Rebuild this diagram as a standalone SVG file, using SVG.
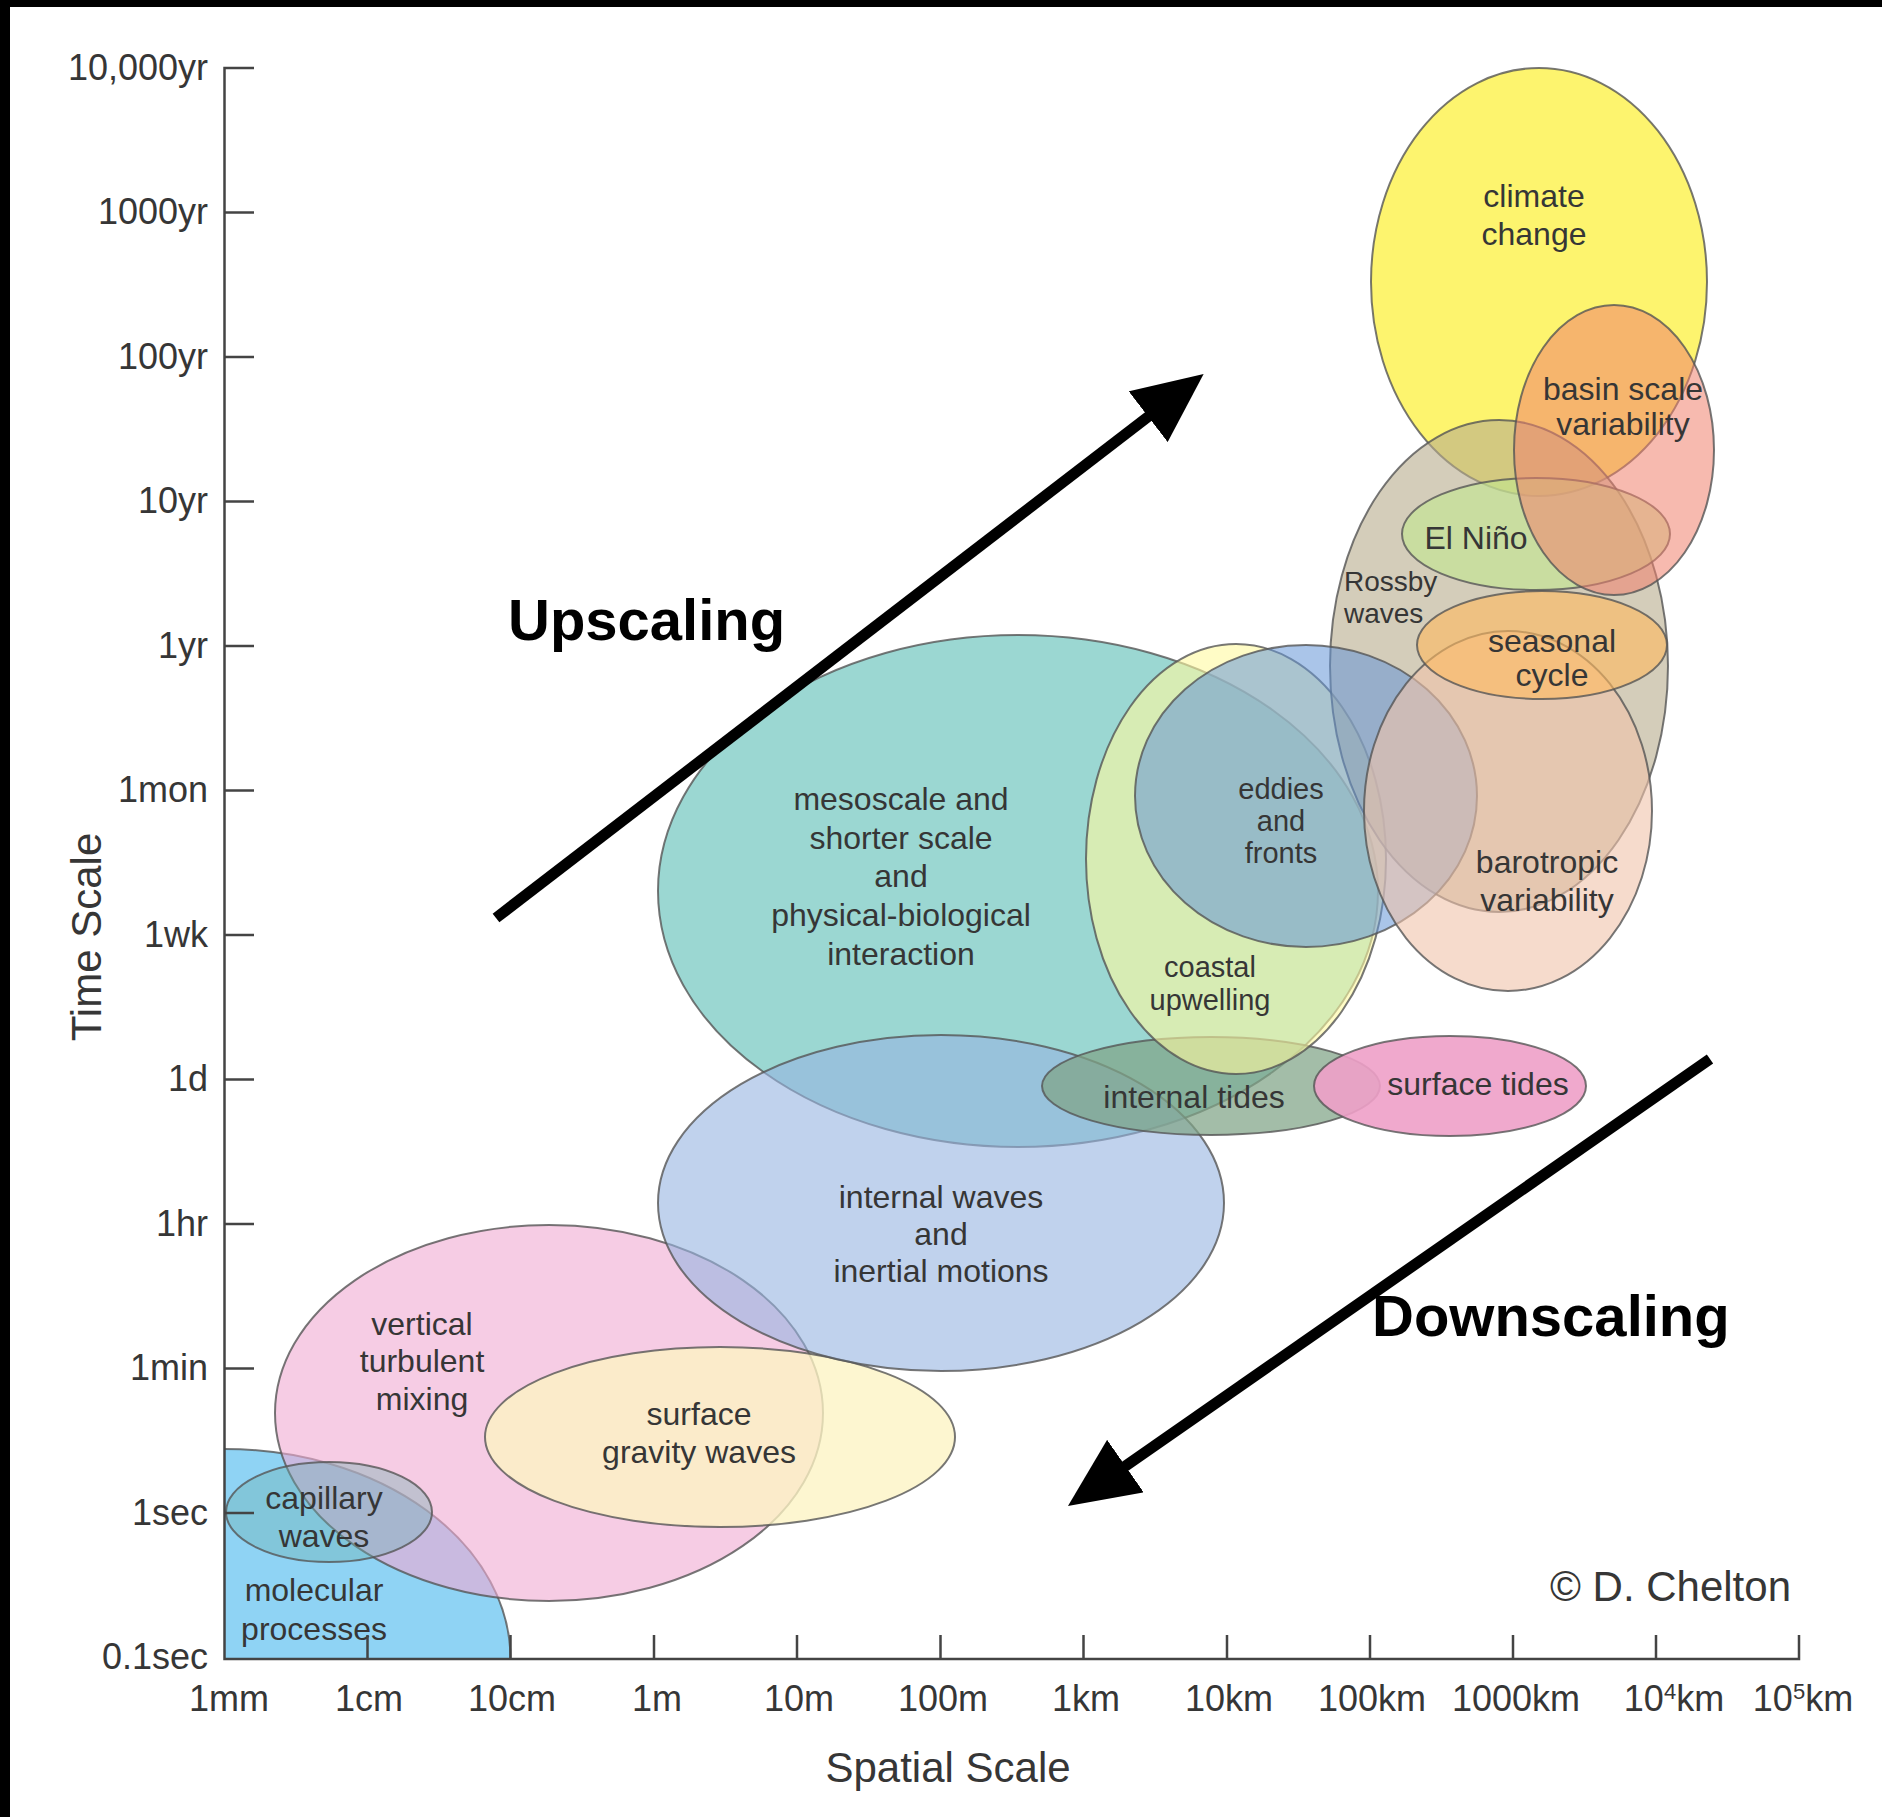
<svg xmlns="http://www.w3.org/2000/svg" width="1882" height="1817" viewBox="0 0 1882 1817">
  <style>
    text { font-family: "Liberation Sans", Arial, Helvetica, sans-serif; fill: #363636; }
    .tick-label { font-size: 36px; }
    .axis-title { font-size: 42px; }
    .lbl { font-size: 32px; text-anchor: middle; }
    .lbl-tight { font-size: 29px; text-anchor: middle; }
    .lbl-small { font-size: 28px; }
    .big { font-size: 58px; font-weight: bold; fill: #000; }
    .blob { stroke: #555; stroke-width: 2; stroke-opacity: 0.8; }
    .axis { stroke: #444; stroke-width: 2.5; fill: none; }
    .arrow { stroke: #000; stroke-width: 11; fill: none; marker-end: url(#head); }
  </style>
  <defs>
    <marker id="head" markerUnits="userSpaceOnUse" viewBox="0 0 70 64" refX="20" refY="32" markerWidth="70" markerHeight="64" orient="auto">
      <path d="M0,0 L70,32 L0,64 Z" fill="#000"/>
    </marker>
  </defs>

  <!-- page background and dark frame edges -->
  <rect x="0" y="0" width="1882" height="1817" fill="#fff"/>
  <rect x="0" y="0" width="1882" height="7" fill="#000"/>
  <rect x="0" y="0" width="10" height="1817" fill="#000"/>

  <!-- small-scale processes -->
  <g id="molecular-processes">
    <path d="M224.5,1659 L224.5,1449 A286,210 0 0 1 510.5,1659 Z" fill="#8fd3f4"/>
    <path d="M224.5,1449 A286,210 0 0 1 510.5,1659" fill="none" class="blob"/>
    <text class="lbl" x="314" y="1601">molecular</text>
    <text class="lbl" x="314" y="1640">processes</text>
  </g>
  <g id="vertical-turbulent-mixing">
    <ellipse class="blob" cx="549" cy="1413" rx="274" ry="188" fill="rgb(240,170,210)" fill-opacity="0.6"/>
    <text class="lbl" x="422" y="1335">vertical</text>
    <text class="lbl" x="422" y="1372">turbulent</text>
    <text class="lbl" x="422" y="1410">mixing</text>
  </g>
  <g id="capillary-waves">
    <ellipse class="blob" cx="329" cy="1512" rx="103" ry="50" fill="rgb(110,175,175)" fill-opacity="0.38"/>
    <text class="lbl" x="324" y="1509">capillary</text>
    <text class="lbl" x="324" y="1547">waves</text>
  </g>
  <g id="surface-gravity-waves">
    <ellipse class="blob" cx="720" cy="1437" rx="235" ry="90" fill="rgb(252,244,195)" fill-opacity="0.78"/>
    <text class="lbl" x="699" y="1425">surface</text>
    <text class="lbl" x="699" y="1463">gravity waves</text>
  </g>

  <!-- mesoscale band -->
  <g id="mesoscale">
    <ellipse class="blob" cx="1018" cy="891" rx="360" ry="256" fill="rgb(55,175,165)" fill-opacity="0.5"/>
    <text class="lbl" x="901" y="810">mesoscale and</text>
    <text class="lbl" x="901" y="849">shorter scale</text>
    <text class="lbl" x="901" y="887">and</text>
    <text class="lbl" x="901" y="926">physical-biological</text>
    <text class="lbl" x="901" y="965">interaction</text>
  </g>
  <g id="internal-waves">
    <ellipse class="blob" cx="941" cy="1203" rx="283" ry="168" fill="rgb(150,180,225)" fill-opacity="0.6"/>
    <text class="lbl" x="941" y="1208">internal waves</text>
    <text class="lbl" x="941" y="1245">and</text>
    <text class="lbl" x="941" y="1282">inertial motions</text>
  </g>
  <g id="internal-tides">
    <ellipse class="blob" cx="1211" cy="1086" rx="169" ry="49" fill="#7fa487" fill-opacity="0.72"/>
  </g>
  <g id="coastal-upwelling">
    <ellipse class="blob" cx="1236" cy="859" rx="150" ry="215" fill="rgb(255,250,160)" fill-opacity="0.6"/>
    <text class="lbl-tight" x="1210" y="977">coastal</text>
    <text class="lbl-tight" x="1210" y="1010">upwelling</text>
  </g>

  <!-- large-scale processes -->
  <g id="climate-change">
    <ellipse class="blob" cx="1539" cy="282" rx="168" ry="214" fill="#fdf46e"/>
    <text class="lbl" x="1534" y="207">climate</text>
    <text class="lbl" x="1534" y="245">change</text>
  </g>
  <g id="rossby-waves">
    <ellipse class="blob" cx="1499" cy="666" rx="169" ry="246" fill="#b8ab8c" fill-opacity="0.6"/>
    <text class="lbl-small" x="1344" y="591">Rossby</text>
    <text class="lbl-small" x="1344" y="623">waves</text>
  </g>
  <g id="el-nino">
    <ellipse class="blob" cx="1536" cy="534" rx="134" ry="56" fill="#c1e790" fill-opacity="0.6"/>
    <text class="lbl" x="1476" y="549">El Niño</text>
  </g>
  <g id="eddies-and-fronts">
    <ellipse class="blob" cx="1306" cy="796" rx="171" ry="151" fill="rgb(100,150,215)" fill-opacity="0.55"/>
    <text class="lbl-tight" x="1281" y="799">eddies</text>
    <text class="lbl-tight" x="1281" y="831">and</text>
    <text class="lbl-tight" x="1281" y="863">fronts</text>
  </g>
  <g id="barotropic-variability">
    <ellipse class="blob" cx="1508" cy="811" rx="144" ry="180" fill="rgb(240,195,170)" fill-opacity="0.6"/>
    <text class="lbl" x="1547" y="873">barotropic</text>
    <text class="lbl" x="1547" y="911">variability</text>
  </g>
  <g id="seasonal-cycle">
    <ellipse class="blob" cx="1542" cy="645" rx="125" ry="54" fill="#ffb95e" fill-opacity="0.6"/>
    <text class="lbl" x="1552" y="652">seasonal</text>
    <text class="lbl" x="1552" y="686">cycle</text>
  </g>
  <g id="basin-scale-variability">
    <ellipse class="blob" cx="1614" cy="450" rx="100" ry="145" fill="rgb(240,130,110)" fill-opacity="0.55"/>
    <text class="lbl" x="1623" y="400">basin scale</text>
    <text class="lbl" x="1623" y="435">variability</text>
  </g>
  <g id="surface-tides">
    <ellipse class="blob" cx="1450" cy="1086" rx="136" ry="50" fill="rgb(238,160,200)" fill-opacity="0.9"/>
    <text class="lbl" x="1478" y="1095">surface tides</text>
  </g>
  <g id="internal-tides-label">
    <text class="lbl" x="1194" y="1108">internal tides</text>
  </g>

  <!-- axes -->
  <g id="axes">
    <path class="axis" d="M254,68 H224.5 V1659 H1799 V1635"/>
    <path class="axis" d="M224.5,212.5 H254 M224.5,357 H254 M224.5,501.5 H254 M224.5,646 H254 M224.5,790.5 H254 M224.5,935 H254 M224.5,1079.5 H254 M224.5,1224 H254 M224.5,1368.5 H254 M224.5,1513 H254"/>
    <path class="axis" d="M367.5,1659 V1635 M510.5,1659 V1635 M654,1659 V1635 M797,1659 V1635 M940.5,1659 V1635 M1083.5,1659 V1635 M1227,1659 V1635 M1370,1659 V1635 M1513,1659 V1635 M1656,1659 V1635"/>
    <g class="tick-label" text-anchor="end">
      <text x="208" y="80">10,000yr</text>
      <text x="208" y="224">1000yr</text>
      <text x="208" y="369">100yr</text>
      <text x="208" y="513">10yr</text>
      <text x="208" y="658">1yr</text>
      <text x="208" y="802">1mon</text>
      <text x="208" y="947">1wk</text>
      <text x="208" y="1091">1d</text>
      <text x="208" y="1236">1hr</text>
      <text x="208" y="1380">1min</text>
      <text x="208" y="1525">1sec</text>
      <text x="208" y="1669">0.1sec</text>
    </g>
    <g class="tick-label" text-anchor="middle">
      <text x="229" y="1711">1mm</text>
      <text x="369" y="1711">1cm</text>
      <text x="512" y="1711">10cm</text>
      <text x="657" y="1711">1m</text>
      <text x="799" y="1711">10m</text>
      <text x="943" y="1711">100m</text>
      <text x="1086" y="1711">1km</text>
      <text x="1229" y="1711">10km</text>
      <text x="1372" y="1711">100km</text>
      <text x="1516" y="1711">1000km</text>
      <text x="1674" y="1711">10<tspan dy="-12" font-size="22">4</tspan><tspan dy="12">km</tspan></text>
      <text x="1803" y="1711">10<tspan dy="-12" font-size="22">5</tspan><tspan dy="12">km</tspan></text>
    </g>
    <text class="axis-title" x="948" y="1782" text-anchor="middle">Spatial Scale</text>
    <text class="axis-title" transform="translate(101,937) rotate(-90)" text-anchor="middle">Time Scale</text>
  </g>

  <!-- scaling arrows -->
  <g id="connectors">
    <line class="arrow" x1="496" y1="918" x2="1164" y2="404.5"/>
    <line class="arrow" x1="1710" y1="1059" x2="1109" y2="1477.5"/>
  </g>
  <g id="arrow-labels">
    <text class="big" x="508" y="640">Upscaling</text>
    <text class="big" x="1372" y="1336">Downscaling</text>
  </g>

  <text x="1791" y="1601" font-size="42" text-anchor="end" fill="#222">© D. Chelton</text>
</svg>
